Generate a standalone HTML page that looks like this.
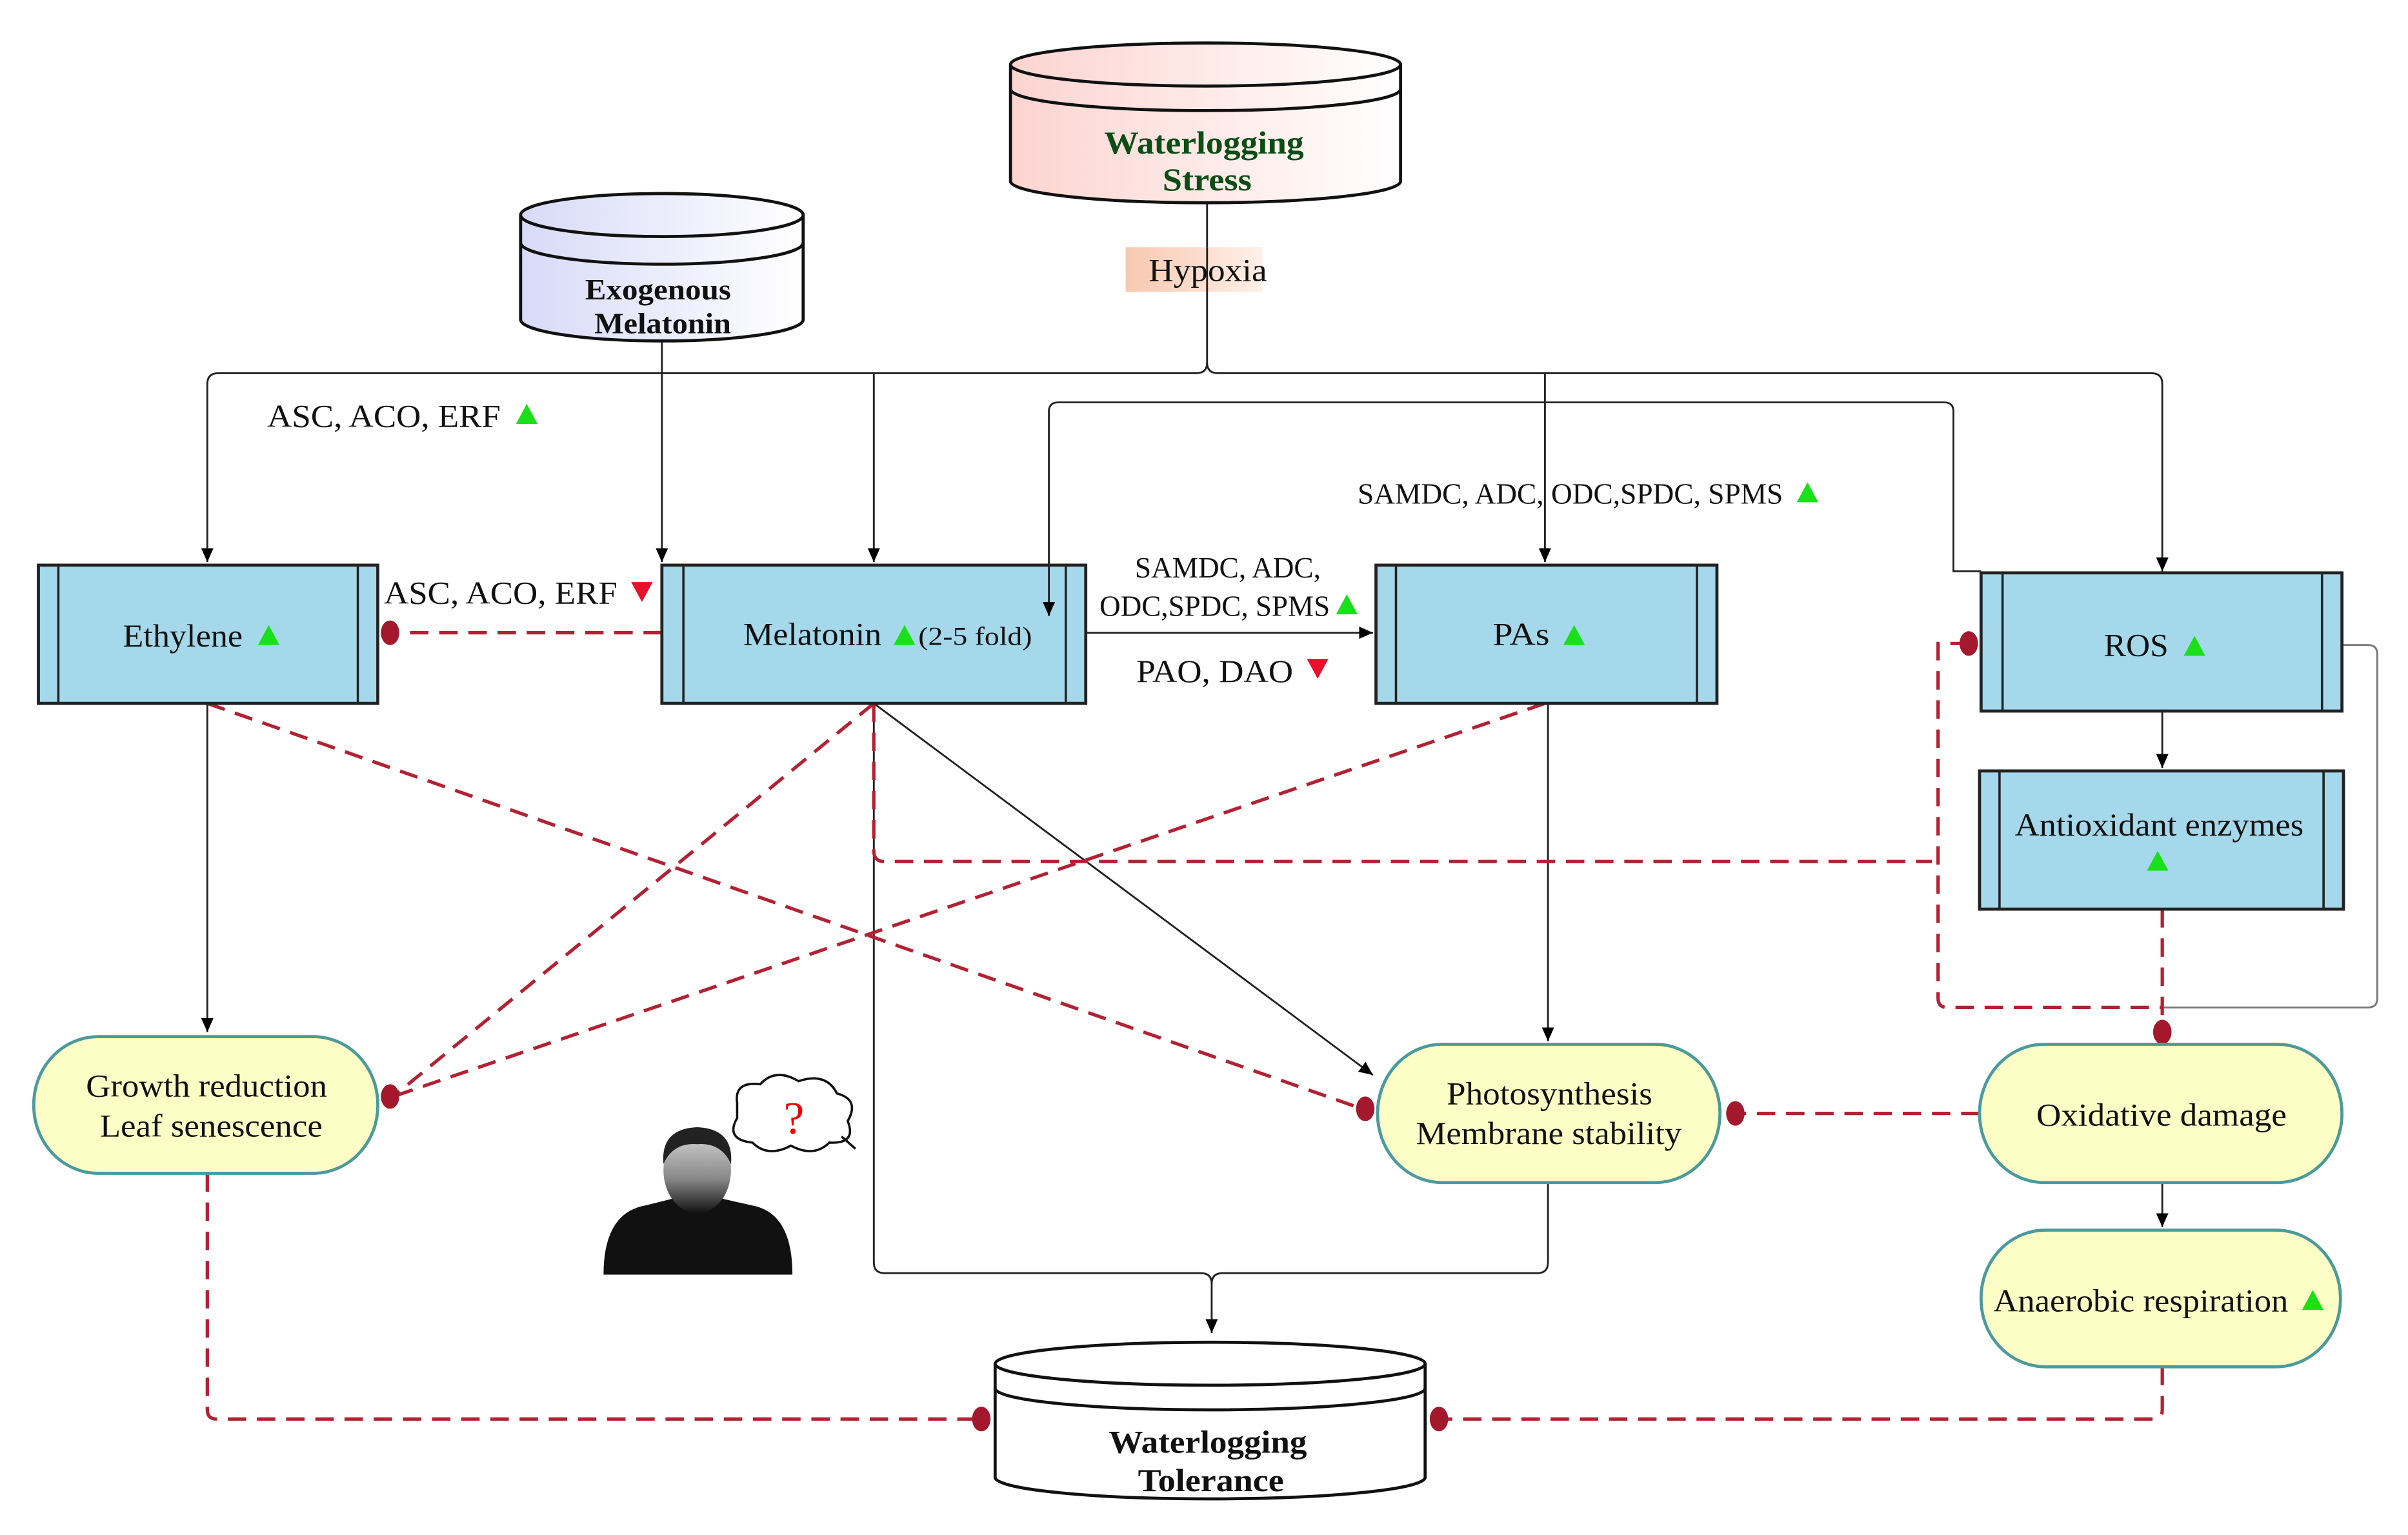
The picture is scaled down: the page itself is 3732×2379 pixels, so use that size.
<!DOCTYPE html>
<html><head><meta charset="utf-8"><style>html,body{margin:0;padding:0;background:#fff}svg{display:block}</style></head>
<body>
<svg width="3732" height="2379" viewBox="0 0 1568 999.5" xmlns="http://www.w3.org/2000/svg" font-family="'Liberation Serif', serif">
<defs>
<linearGradient id="pk" x1="0" x2="1"><stop offset="0" stop-color="#fcd4d0"/><stop offset="1" stop-color="#fff"/></linearGradient>
<linearGradient id="lv" x1="0" x2="1"><stop offset="0" stop-color="#d8daf8"/><stop offset="1" stop-color="#fff"/></linearGradient>
<linearGradient id="hx" x1="0" x2="1"><stop offset="0" stop-color="#f8c8b0"/><stop offset="1" stop-color="#fff0e8"/></linearGradient>
<linearGradient id="pr" x1="0" x2="0" y1="0" y2="1"><stop offset="0" stop-color="#ddd"/><stop offset="0.6" stop-color="#888"/><stop offset="1" stop-color="#111"/></linearGradient>
<marker id="ar" markerWidth="10" markerHeight="10" refX="9" refY="5" orient="auto" markerUnits="userSpaceOnUse"><path d="M0,1 L9,5 L0,9 z" fill="#000"/></marker>
</defs>
<g fill="none" stroke="#222" stroke-width="1.2">
<path d="M786,130 V236 Q786,243 779,243 H142 Q135,243 135,250 V366" marker-end="url(#ar)"/>
<path d="M569,243 V366" marker-end="url(#ar)"/>
<path d="M786,236 Q786,243 793,243 H1401 Q1408,243 1408,250 V372" marker-end="url(#ar)"/>
<path d="M1006,243 V366" marker-end="url(#ar)"/>
<path d="M431,222 V366" marker-end="url(#ar)"/>
<path d="M683,368 V268 Q683,262 689,262 H1266 Q1272,262 1272,268 V372 H1290"/>
<path d="M135,458 V672" marker-end="url(#ar)"/>
<path d="M707,412 H894" marker-end="url(#ar)"/>
<path d="M569,458 L894,700" marker-end="url(#ar)"/>
<path d="M569,458 V822 Q569,829 576,829 H782 Q789,829 789,836 V868" marker-end="url(#ar)"/>
<path d="M1008,770 V822 Q1008,829 1001,829 H796 Q789,829 789,836"/>
<path d="M1008,458 V678" marker-end="url(#ar)"/>
<path d="M1408,463 V500" marker-end="url(#ar)"/>
<path d="M1525,420 H1542 Q1548,420 1548,426 V650 Q1548,656 1542,656 H1408" stroke="#777"/>
<path d="M1408,770 V799" marker-end="url(#ar)"/>
</g>
<g fill="none" stroke="#b22234" stroke-width="2.2" stroke-dasharray="12,7">
<path d="M431,412 H256"/>
<path d="M569,458 L256,714"/>
<path d="M1006,458 L256,714"/>
<path d="M135,458 L887,722"/>
<path d="M569,458 V554 Q569,561 576,561 H1258"/>
<path d="M1282,419 H1262 V650 Q1262,656 1268,656 H1408"/>
<path d="M1408,592 V670"/>
<path d="M1289,725 H1131"/>
<path d="M135,764 V918 Q135,924 141,924 H637"/>
<path d="M1408,890 V918 Q1408,924 1402,924 H939"/>
</g>
<g fill="#a3182c">
<ellipse cx="254" cy="412" rx="6" ry="8"/><ellipse cx="254" cy="714" rx="6" ry="8"/>
<ellipse cx="889" cy="722" rx="6" ry="8"/><ellipse cx="1130" cy="725" rx="6" ry="8"/>
<ellipse cx="1282" cy="419" rx="6" ry="8"/><ellipse cx="1408" cy="672" rx="6" ry="8"/>
<ellipse cx="639" cy="924" rx="6" ry="8"/><ellipse cx="937" cy="924" rx="6" ry="8"/>
</g>
<g stroke="#111" stroke-width="2">
<path d="M658,42 V118 A127,14 0 0 0 912,118 V42" fill="url(#pk)"/>
<ellipse cx="785" cy="42" rx="127" ry="14" fill="url(#pk)"/>
<path d="M658,58 A127,14 0 0 0 912,58" fill="none"/>
<path d="M339,140 V208 A92,14 0 0 0 523,208 V140" fill="url(#lv)"/>
<ellipse cx="431" cy="140" rx="92" ry="14" fill="url(#lv)"/>
<path d="M339,158 A92,14 0 0 0 523,158" fill="none"/>
<path d="M648,888 V962 A140,14 0 0 0 928,962 V888" fill="#fff"/>
<ellipse cx="788" cy="888" rx="140" ry="14" fill="#fff"/>
<path d="M648,904 A140,14 0 0 0 928,904" fill="none"/>
</g>
<rect x="733" y="161" width="89" height="29" fill="url(#hx)"/>
<path d="M786,161 V190" stroke="#222" stroke-width="1.2"/>
<g fill="#a4d8ea" stroke="#222" stroke-width="2">
<rect x="25" y="368" width="221" height="90"/><rect x="431" y="368" width="276" height="90"/>
<rect x="896" y="368" width="222" height="90"/><rect x="1290" y="373" width="235" height="90"/>
<rect x="1289" y="502" width="237" height="90"/>
</g>
<g stroke="#222" stroke-width="1.5">
<path d="M38,368V458M233,368V458M445,368V458M694,368V458M909,368V458M1105,368V458M1304,373V463M1512,373V463M1302,502V592M1513,502V592"/>
</g>
<path d="M683,368 V401" fill="none" stroke="#222" stroke-width="1.2" marker-end="url(#ar)"/>
<g fill="#fdfdc6" stroke="#4b9a9c" stroke-width="2">
<rect x="22" y="675" width="224" height="89" rx="42" ry="44"/>
<rect x="897" y="680" width="223" height="90" rx="42" ry="45"/>
<rect x="1289" y="680" width="236" height="90" rx="42" ry="45"/>
<rect x="1290" y="801" width="234" height="89" rx="42" ry="44"/>
</g>
<path d="M393,830 Q393,790 420,785 L440,780 Q454,790 468,780 L490,785 Q516,790 516,830 Z" fill="#111"/>
<ellipse cx="454" cy="762" rx="22" ry="28" fill="url(#pr)"/>
<path d="M432,758 Q430,735 454,734 Q478,735 476,758 Q470,744 454,745 Q438,744 432,758Z" fill="#222"/>
<path d="M480,718 Q478,704 495,706 Q505,695 520,704 Q538,698 545,712 Q560,716 552,730 Q558,745 540,744 Q530,754 515,746 Q500,754 490,744 Q472,742 480,728 Z" fill="#fff" stroke="#111" stroke-width="1.5"/>
<path d="M548,740 L557,748" stroke="#111" stroke-width="1.5"/>
<text x="517" y="738" font-size="30" fill="#e00" text-anchor="middle">?</text>
<g font-size="21" fill="#111" lengthAdjust="spacingAndGlyphs">
<text x="719" y="100" font-weight="bold" fill="#0b4d14" textLength="130" lengthAdjust="spacingAndGlyphs">Waterlogging</text>
<text x="757" y="124" font-weight="bold" fill="#0b4d14" textLength="58" lengthAdjust="spacingAndGlyphs">Stress</text>
<text x="381" y="195" font-weight="bold" font-size="19" textLength="95" lengthAdjust="spacingAndGlyphs">Exogenous</text>
<text x="387" y="217" font-weight="bold" font-size="19" textLength="89" lengthAdjust="spacingAndGlyphs">Melatonin</text>
<text x="748" y="183" textLength="77" lengthAdjust="spacingAndGlyphs">Hypoxia</text>
<text x="722" y="946" font-weight="bold" textLength="129" lengthAdjust="spacingAndGlyphs">Waterlogging</text>
<text x="741" y="971" font-weight="bold" textLength="95" lengthAdjust="spacingAndGlyphs">Tolerance</text>
<text x="80" y="421" textLength="78" lengthAdjust="spacingAndGlyphs">Ethylene</text>
<text x="484" y="420" textLength="90" lengthAdjust="spacingAndGlyphs">Melatonin</text>
<text x="598" y="420" font-size="17" textLength="74" lengthAdjust="spacingAndGlyphs">(2-5 fold)</text>
<text x="972" y="420" textLength="37" lengthAdjust="spacingAndGlyphs">PAs</text>
<text x="1370" y="427" textLength="42" lengthAdjust="spacingAndGlyphs">ROS</text>
<text x="1312" y="544" textLength="188" lengthAdjust="spacingAndGlyphs">Antioxidant enzymes</text>
<text x="56" y="714" textLength="157" lengthAdjust="spacingAndGlyphs">Growth reduction</text>
<text x="65" y="740" textLength="145" lengthAdjust="spacingAndGlyphs">Leaf senescence</text>
<text x="942" y="719" textLength="134" lengthAdjust="spacingAndGlyphs">Photosynthesis</text>
<text x="922" y="745" textLength="173" lengthAdjust="spacingAndGlyphs">Membrane stability</text>
<text x="1326" y="733" textLength="163" lengthAdjust="spacingAndGlyphs">Oxidative damage</text>
<text x="1298" y="854" textLength="192" lengthAdjust="spacingAndGlyphs">Anaerobic respiration</text>
<text x="174" y="278" textLength="152" lengthAdjust="spacingAndGlyphs">ASC, ACO, ERF</text>
<text x="250" y="393" textLength="152" lengthAdjust="spacingAndGlyphs">ASC, ACO, ERF</text>
<text x="884" y="328" font-size="19" textLength="277" lengthAdjust="spacingAndGlyphs">SAMDC, ADC, ODC,SPDC, SPMS</text>
<text x="739" y="376" font-size="19" textLength="121" lengthAdjust="spacingAndGlyphs">SAMDC, ADC,</text>
<text x="716" y="401" font-size="19" textLength="150" lengthAdjust="spacingAndGlyphs">ODC,SPDC, SPMS</text>
<text x="740" y="444" textLength="102" lengthAdjust="spacingAndGlyphs">PAO, DAO</text>
</g>
<g fill="#19e019">
<path d="M336,276 l7,-13 l7,13z"/><path d="M1170,327 l7,-13 l7,13z"/><path d="M870,400 l7,-13 l7,13z"/>
<path d="M168,420 l7,-13 l7,13z"/><path d="M582,420 l7,-13 l7,13z"/><path d="M1018,420 l7,-13 l7,13z"/>
<path d="M1422,427 l7,-13 l7,13z"/><path d="M1398,567 l7,-13 l7,13z"/><path d="M1499,853 l7,-13 l7,13z"/>
</g>
<g fill="#e8102a">
<path d="M411,379 l7,13 l7,-13z"/><path d="M851,429 l7,13 l7,-13z"/>
</g>
</svg>
</body></html>
